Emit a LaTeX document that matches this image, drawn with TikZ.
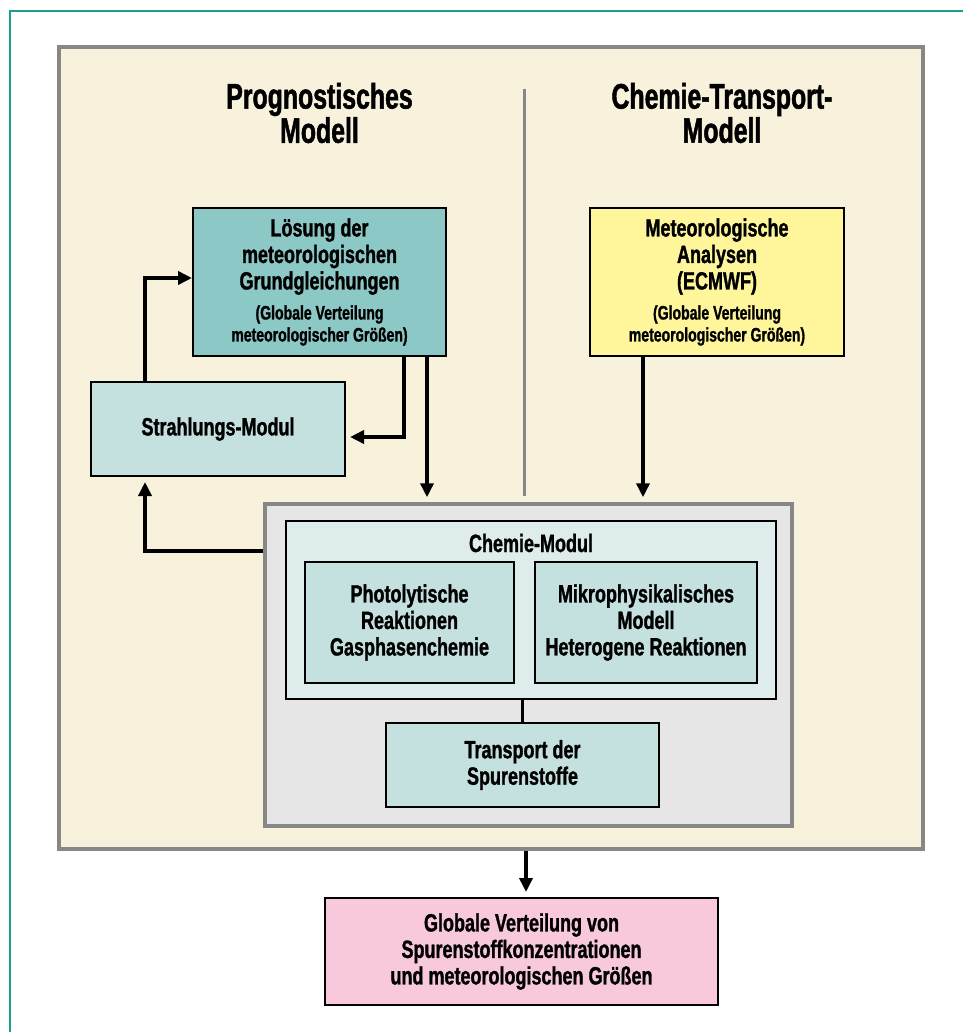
\documentclass[tikz,border=0pt]{standalone}
\usepackage{fontspec}
\newfontfamily\cfont{Liberation Sans}[FakeStretch=0.72, FakeBold=1.2]
\newfontfamily\tfont{Liberation Sans}[FakeStretch=0.70, FakeBold=1.4]
\usetikzlibrary{arrows.meta}
\definecolor{frameteal}{HTML}{18A08F}
\definecolor{beige}{HTML}{F8F1DC}
\definecolor{panelgrey}{HTML}{878787}
\definecolor{tealA}{HTML}{8CC8C5}
\definecolor{tealB}{HTML}{C4E0DF}
\definecolor{tealC}{HTML}{DEEDEC}
\definecolor{chemgrey}{HTML}{E6E6E6}
\definecolor{yelc}{HTML}{FFF69C}
\definecolor{pinkc}{HTML}{F8C8DD}
\newcommand{\bigsz}{\fontsize{25}{26.5}\selectfont}
\newcommand{\smsz}{\fontsize{19.5}{22}\selectfont}
\newcommand{\titsz}{\fontsize{35.5}{32}\selectfont}
\tikzset{
  box/.style={draw=black, line width=2pt, inner sep=0pt, align=center, font=\cfont\bfseries\bigsz},
  titletext/.style={inner sep=0pt, align=center, font=\tfont\bfseries\titsz},
  arr/.style={line width=3.5pt, -{Triangle[length=14pt,width=13pt]}},
  plainline/.style={line width=3.5pt},
}
\begin{document}
\begin{tikzpicture}[x=1pt,y=-1pt]
\useasboundingbox (0,0) rectangle (962,1032);
% outer frame
\draw[frameteal, line width=2.5pt] (10,1045) -- (10,11) -- (975,11);
% beige panel
\node[draw=panelgrey, fill=beige, line width=4pt, minimum width=864pt, minimum height=802pt, inner sep=0pt] (panel) at (491,447.75) {};
% divider
\coordinate (d1) at (524,89);
\coordinate (d2) at (524,496);
\draw[panelgrey, line width=3pt] (d1) -- (d2);
% titles
\node[titletext] (t1) at (319.5,113) {Prognostisches\\Modell};
\node[titletext] (t2) at (722,113) {Chemie-Transport-\\Modell};
% boxes
\node[box, fill=tealA, minimum width=253pt, minimum height=148pt] (loes) at (319.5,282)
  {Lösung der\\meteorologischen\\Grundgleichungen\\[3.5pt]{\smsz(Globale Verteilung}\\[-4.5pt]{\smsz meteorologischer Größen)}};
\node[box, fill=yelc, minimum width=254pt, minimum height=148pt] (meteo) at (717,282)
  {Meteorologische\\Analysen\\(ECMWF)\\[3.5pt]{\smsz(Globale Verteilung}\\[-4.5pt]{\smsz meteorologischer Größen)}};
\node[box, fill=tealB, minimum width=254pt, minimum height=94pt] (strahl) at (218,429) {Strahlungs-Modul};
\node[draw=panelgrey, fill=chemgrey, line width=3.5pt, minimum width=527pt, minimum height=322pt, inner sep=0pt] (chem) at (528.5,665) {};
\node[box, fill=tealC, minimum width=490pt, minimum height=178pt] (cm) at (531,610) {};
\node[inner sep=0pt, anchor=base, font=\cfont\bfseries\bigsz] (cmlabel) at (531,552) {Chemie-Modul};
\node[box, fill=tealB, minimum width=209pt, minimum height=121pt] (photo) at (409.5,622.5)
  {Photolytische\\Reaktionen\\Gasphasenchemie};
\node[box, fill=tealB, minimum width=222pt, minimum height=121pt] (mikro) at (646,622.5)
  {Mikrophysikalisches\\Modell\\Heterogene Reaktionen};
\node[box, fill=tealB, minimum width=273pt, minimum height=84pt] (trans) at (522.5,765)
  {Transport der\\Spurenstoffe};
\node[box, fill=pinkc, minimum width=393pt, minimum height=107pt] (pink) at (521.5,951.5)
  {Globale Verteilung von\\Spurenstoffkonzentrationen\\und meteorologischen Größen};
% connectors
\draw[arr] ([xshift=-73pt]strahl.north) |- ([yshift=4pt]loes.west);
\draw[arr] ([xshift=84.5pt]loes.south) |- ([xshift=4pt,yshift=-8pt]strahl.east);
\coordinate (a3) at ([xshift=107.5pt]loes.south);
\draw[arr, shorten >=5pt] (a3) -- (a3 |- chem.north);
\coordinate (a4) at ([xshift=-74pt]meteo.south);
\draw[arr, shorten >=5pt] (a4) -- (a4 |- chem.north);
\coordinate (a5) at ([yshift=114pt]chem.west);
\draw[arr, shorten >=5pt] (a5) -| ([xshift=-73pt]strahl.south);
\draw[plainline] (trans.north) -- (trans.north |- cm.south);
\coordinate (a6) at ([xshift=4.5pt]pink.north);
\draw[arr, shorten >=5pt] (a6 |- panel.south) -- (a6);
\end{tikzpicture}
\end{document}
